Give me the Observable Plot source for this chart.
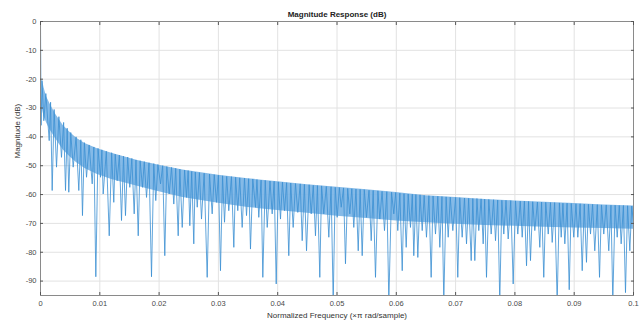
<!DOCTYPE html>
<html><head><meta charset="utf-8">
<script src="https://cdn.jsdelivr.net/npm/d3@7"></script>
<script src="https://cdn.jsdelivr.net/npm/@observablehq/plot@0.6"></script>
<style>body{margin:0;background:#fff} svg{display:block}</style>
</head><body><div id="chart"></div>
<script>
const title = "Magnitude Response (dB)";
const xLabel = "Normalized Frequency (\u00d7\u03c0 rad/sample)";
const yLabel = "Magnitude (dB)";
const xTicks = [0, 0.01, 0.02, 0.03, 0.04, 0.05, 0.06, 0.07, 0.08, 0.09, 0.1];
const xTickLabels = ["0", "0.01", "0.02", "0.03", "0.04", "0.05", "0.06", "0.07", "0.08", "0.09", "0.1"];
const yTicks = [0, -10, -20, -30, -40, -50, -60, -70, -80, -90];
const yTickLabels = ["0", "-10", "-20", "-30", "-40", "-50", "-60", "-70", "-80", "-90"];

// dense side-lobe band
const envF   = [0.0003, 0.0006, 0.001, 0.0016, 0.0025, 0.0038, 0.005, 0.0061, 0.0075, 0.0095, 0.012, 0.0162, 0.02, 0.024, 0.03, 0.035, 0.04, 0.045, 0.05, 0.055, 0.06, 0.065, 0.07, 0.075, 0.08, 0.085, 0.09, 0.095, 0.1];
const envTop = [-20, -23, -26, -28.5, -32, -36, -38.5, -40.5, -42.3, -44, -45.7, -48.1, -49.8, -51.5, -53.3, -54.5, -55.6, -56.6, -57.5, -58.3, -59.3, -60.4, -61, -61.7, -62.2, -62.7, -63.1, -63.6, -64];
const envLow = [-30, -33, -35, -37.5, -40.5, -44.5, -47, -49, -51, -53, -54.8, -57, -59, -61, -63, -64.5, -65.5, -66.5, -67.5, -68.3, -69.2, -69.8, -70.3, -70.7, -71, -71.3, -71.6, -71.8, -72];

// lobe peaks and nulls [normalized frequency, dB]
const response = [
  [0, 0], [0.0001, -36], [0.00025, -20.5], [0.00056, -34.4], [0.0009, -25], [0.00147, -41.3],
  [0.0017, -28], [0.00197, -58.6], [0.0023, -30.5], [0.0027, -50.5], [0.0031, -33], [0.00354, -47.1],
  [0.0039, -35], [0.00422, -58.6], [0.0045, -37], [0.00477, -59.2], [0.0051, -38.5], [0.00551, -50.5],
  [0.006, -40], [0.00646, -58.6], [0.0068, -41], [0.00708, -67.3], [0.0074, -42], [0.00776, -54],
  [0.0082, -42.8], [0.00872, -56.3], [0.009, -43.5], [0.00933, -88.5], [0.0097, -44], [0.01012, -54],
  [0.01035, -44.5], [0.01057, -59.8], [0.0111, -45], [0.01159, -74.3], [0.012, -45.5], [0.01236, -62.7],
  [0.0126, -46], [0.01293, -55.2], [0.0133, -46.3], [0.01366, -69], [0.014, -46.7], [0.01433, -67.3],
  [0.0147, -47], [0.01506, -57.5], [0.0154, -47.5], [0.0158, -66.7], [0.0161, -48], [0.01648, -74.3],
  [0.0168, -48.3], [0.0172, -57.5], [0.0175, -48.6], [0.01788, -61], [0.0183, -49], [0.01872, -88.5],
  [0.0191, -49.3], [0.01944, -62.1], [0.0198, -49.6], [0.02024, -56.3], [0.0206, -50], [0.02096, -81.2],
  [0.0213, -50.3], [0.0217, -59.8], [0.0221, -50.6], [0.02248, -63.3], [0.0228, -50.9], [0.02322, -74.3],
  [0.0235, -51.2], [0.0239, -71.4], [0.0243, -51.5], [0.02462, -61], [0.0249, -51.7], [0.02518, -70.8],
  [0.0255, -52], [0.02585, -77.1], [0.0261, -52.2], [0.02643, -64.4], [0.0268, -52.4], [0.02715, -68.5],
  [0.0276, -52.6], [0.02811, -88.7], [0.0285, -52.9], [0.02895, -66.7], [0.0293, -53.1], [0.02968, -62.7],
  [0.03, -53.3], [0.03035, -86.4], [0.0307, -53.5], [0.03103, -69.6], [0.0314, -53.7], [0.03175, -65.6],
  [0.0322, -53.8], [0.0326, -78.3], [0.0329, -54], [0.03327, -65.6], [0.0336, -54.2], [0.03401, -71.4],
  [0.0344, -54.3], [0.03474, -67.3], [0.0351, -54.5], [0.03541, -78.9], [0.0358, -54.6], [0.03626, -64.4],
  [0.0365, -54.8], [0.03681, -67.9], [0.0372, -55], [0.03749, -88.7], [0.0379, -55.1], [0.03823, -71.4],
  [0.0387, -55.3], [0.03907, -66.7], [0.0394, -55.4], [0.03975, -91], [0.0401, -55.6], [0.04047, -68.5],
  [0.0408, -55.7], [0.04115, -65.6], [0.0415, -55.9], [0.04187, -81.2], [0.0422, -56], [0.04261, -71.4],
  [0.043, -56.2], [0.04339, -66.2], [0.0438, -56.3], [0.04413, -76], [0.0445, -56.5], [0.04486, -79.5],
  [0.0453, -56.6], [0.04565, -66.7], [0.046, -56.8], [0.04637, -74.3], [0.0467, -56.9], [0.0471, -88.7],
  [0.0474, -57], [0.04777, -66.7], [0.0482, -57.2], [0.04862, -74.8], [0.049, -57.3], [0.04936, -97],
  [0.0497, -57.5], [0.05003, -67.9], [0.0504, -57.6], [0.05071, -64.4], [0.0511, -57.7], [0.05143, -84],
  [0.0518, -57.9], [0.05216, -66.7], [0.0525, -58], [0.05283, -71.4], [0.0532, -58.1], [0.05358, -79.5],
  [0.0539, -58.2], [0.05425, -81.2], [0.0546, -58.3], [0.05497, -67.9], [0.0554, -58.5], [0.05577, -76],
  [0.0561, -58.6], [0.05649, -88.7], [0.0569, -58.7], [0.05722, -68.5], [0.0576, -58.9], [0.05801, -72.5],
  [0.0584, -59], [0.05874, -97], [0.0592, -59.2], [0.05958, -66.7], [0.0599, -59.3], [0.06025, -72.5],
  [0.0606, -59.5], [0.061, -86.4], [0.0613, -59.7], [0.06167, -78.3], [0.062, -59.8], [0.06239, -71.4],
  [0.0627, -59.9], [0.06295, -81.2], [0.0633, -60], [0.06363, -81.8], [0.064, -60.1], [0.06437, -72.5],
  [0.0647, -60.3], [0.06509, -74.8], [0.0655, -60.4], [0.06588, -88.7], [0.0662, -60.5], [0.06661, -73.7],
  [0.067, -60.6], [0.06734, -78.3], [0.0677, -60.7], [0.06801, -97], [0.0684, -60.8], [0.06875, -74.8],
  [0.0691, -60.9], [0.06953, -72.5], [0.07, -61], [0.07037, -88.7], [0.0707, -61.1], [0.07111, -74.8],
  [0.0715, -61.2], [0.07184, -77.1], [0.0722, -61.3], [0.07263, -82.9], [0.0729, -61.4], [0.07324, -82.9],
  [0.0736, -61.4], [0.07391, -72.5], [0.0743, -61.5], [0.07465, -77.1], [0.0749, -61.6], [0.07521, -88.7],
  [0.0756, -61.7], [0.076, -73.7], [0.0764, -61.8], [0.07673, -76], [0.0771, -61.9], [0.07745, -97],
  [0.0778, -62], [0.07813, -73.7], [0.0785, -62], [0.07887, -75.4], [0.0793, -62.1], [0.07971, -91],
  [0.0801, -62.2], [0.08049, -73.7], [0.0809, -62.3], [0.08123, -74.8], [0.0816, -62.3], [0.08196, -84.7],
  [0.0823, -62.4], [0.08263, -82.9], [0.083, -62.5], [0.08336, -72.5], [0.0838, -62.6], [0.0842, -78.3],
  [0.0845, -62.6], [0.08487, -88.7], [0.0852, -62.7], [0.08562, -73.7], [0.086, -62.8], [0.08629, -76.6],
  [0.0867, -62.8], [0.08713, -97], [0.0875, -62.9], [0.08781, -74.8], [0.0881, -63], [0.08842, -77.1],
  [0.0888, -63], [0.08916, -93], [0.0895, -63.1], [0.08993, -74.8], [0.0903, -63.2], [0.09061, -74.8],
  [0.091, -63.2], [0.09135, -86.4], [0.0917, -63.3], [0.09207, -83.5], [0.0924, -63.4], [0.09275, -73.7],
  [0.0931, -63.4], [0.09347, -79.5], [0.0939, -63.5], [0.09427, -88.7], [0.0946, -63.6], [0.09499, -73.7],
  [0.0954, -63.6], [0.09583, -79.5], [0.0962, -63.7], [0.09651, -97], [0.0969, -63.7], [0.09725, -74.8],
  [0.0976, -63.8], [0.09792, -77.1], [0.0983, -63.8], [0.09865, -94], [0.099, -63.9], [0.09938, -79.5],
  [0.0997, -64], [0.1, -70]
];

const band = envF.map((f, i) => ({f, top: envTop[i], low: envLow[i]}));
const curve = response.map(([f, db]) => ({f, db}));
const fmtX = d => xTickLabels[xTicks.indexOf(d)];
const fmtY = d => yTickLabels[yTicks.indexOf(d)];
const axisColor = "#8a8a8a";
const textColor = "#4a4a4a";

const chart = Plot.plot({
  width: 643, height: 320,
  marginLeft: 40, marginRight: 10, marginTop: 21, marginBottom: 25,
  style: {fontFamily: "'Liberation Sans', Arial, sans-serif", fontSize: "7.5px", background: "#ffffff", overflow: "visible"},
  x: {domain: [0, 0.1]},
  y: {domain: [-95, 0]},
  marks: [
    Plot.gridX(xTicks, {stroke: "#e2e2e2", strokeOpacity: 1}),
    Plot.gridY(yTicks, {stroke: "#e2e2e2", strokeOpacity: 1}),
    Plot.areaY(band, {x: "f", y1: "low", y2: "top", fill: "#78b3e4", fillOpacity: 0.9, clip: true}),
    Plot.line(curve, {x: "f", y: "db", stroke: "#3b8fd2", strokeWidth: 0.9, strokeOpacity: 0.9, clip: true}),
    Plot.frame({stroke: axisColor}),
    Plot.axisX(xTicks, {anchor: "bottom", tickSize: -3, tickFormat: () => "", label: null, stroke: "#555"}),
    Plot.axisX(xTicks, {anchor: "top", tickSize: -3, tickFormat: () => "", label: null, stroke: "#555"}),
    Plot.axisY(yTicks, {anchor: "left", tickSize: -3, tickFormat: () => "", label: null, stroke: "#555"}),
    Plot.axisY(yTicks, {anchor: "right", tickSize: -3, tickFormat: () => "", label: null, stroke: "#555"}),
    Plot.axisX(xTicks, {anchor: "bottom", tickSize: 0, tickPadding: 5, tickFormat: fmtX, label: null, fill: textColor}),
    Plot.axisY(yTicks, {anchor: "left", tickSize: 0, tickPadding: 4, tickFormat: fmtY, label: null, fill: textColor}),
    Plot.text([title], {frameAnchor: "top", dy: -7, text: d => d, fontWeight: "bold", fontSize: 8, fill: "#222", lineAnchor: "middle"}),
    Plot.text([xLabel], {frameAnchor: "bottom", dy: 20, text: d => d, fontSize: 8, fill: "#333", lineAnchor: "middle"}),
    Plot.text([yLabel], {frameAnchor: "left", dx: -23, rotate: -90, text: d => d, fontSize: 8, fill: "#333", lineAnchor: "middle"})
  ]
});
document.getElementById("chart").appendChild(chart);
</script>
</body></html>
